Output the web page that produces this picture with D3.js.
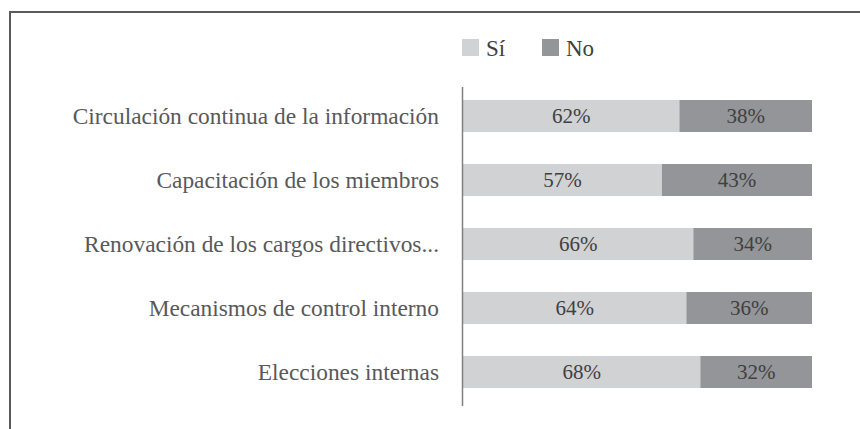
<!DOCTYPE html>
<html>
<head>
<meta charset="utf-8">
<script src="https://cdn.jsdelivr.net/npm/d3@7.9.0/dist/d3.min.js"></script>
<style>
  body { margin: 0; background: #fff; }
</style>
</head>
<body>
<svg id="chart" width="860" height="429"></svg>
<script>
const categories = [
  'Circulación continua de la información',
  'Capacitación de los miembros',
  'Renovación de los cargos directivos...',
  'Mecanismos de control interno',
  'Elecciones internas'
];
const siValues = [62, 57, 66, 64, 68];
const noValues = [38, 43, 34, 36, 32];
const seriesNames = ['Sí', 'No'];
const seriesColors = ['#d1d2d4', '#939598'];

const FONT = 'Liberation Serif';
const svg = d3.select('#chart');

// frame (cut off at right/bottom like the scan)
svg.append('path')
  .attr('d', 'M10,440 L10,12 L870,12')
  .attr('fill', 'none')
  .attr('stroke', '#5a5a5a')
  .attr('stroke-width', 2);

const x = d3.scaleLinear().domain([0, 100]).range([463, 812]);
const y = d3.scaleBand().domain(categories).range([84, 404])
  .paddingInner(0.5).paddingOuter(0.25);

const rows = categories.map((c, i) => ({ cat: c, si: siValues[i], no: noValues[i] }));

const g = svg.append('g');

rows.forEach(r => {
  const stack = [
    { v: r.si, x0: 0, x1: r.si, color: seriesColors[0] },
    { v: r.no, x0: r.si, x1: r.si + r.no, color: seriesColors[1] }
  ];
  stack.forEach(s => {
    g.append('rect')
      .attr('x', x(s.x0))
      .attr('y', y(r.cat))
      .attr('width', x(s.x1) - x(s.x0))
      .attr('height', y.bandwidth())
      .attr('fill', s.color);
    g.append('text')
      .attr('x', (x(s.x0) + x(s.x1)) / 2)
      .attr('y', y(r.cat) + y.bandwidth() / 2)
      .attr('dy', '0.35em')
      .attr('text-anchor', 'middle')
      .attr('font-family', FONT)
      .attr('font-size', 21)
      .attr('fill', '#404041')
      .text(s.v + '%');
  });
  svg.append('text')
    .attr('x', 439)
    .attr('y', y(r.cat) + y.bandwidth() / 2)
    .attr('dy', '0.35em')
    .attr('text-anchor', 'end')
    .attr('font-family', FONT)
    .attr('font-size', 23.4)
    .attr('fill', '#58595b')
    .text(r.cat);
});

// vertical axis line
svg.append('line')
  .attr('x1', 462.5).attr('x2', 462.5)
  .attr('y1', 87).attr('y2', 406)
  .attr('stroke', '#808080')
  .attr('stroke-width', 1.5);

// legend
const legendX = [462, 542];
seriesNames.forEach((name, i) => {
  svg.append('rect')
    .attr('x', legendX[i]).attr('y', 39)
    .attr('width', 17).attr('height', 17)
    .attr('fill', seriesColors[i]);
  svg.append('text')
    .attr('x', legendX[i] + 24)
    .attr('y', 47.5)
    .attr('dy', '0.35em')
    .attr('font-family', FONT)
    .attr('font-size', 23)
    .attr('fill', '#404041')
    .text(name);
});
</script>
</body>
</html>
